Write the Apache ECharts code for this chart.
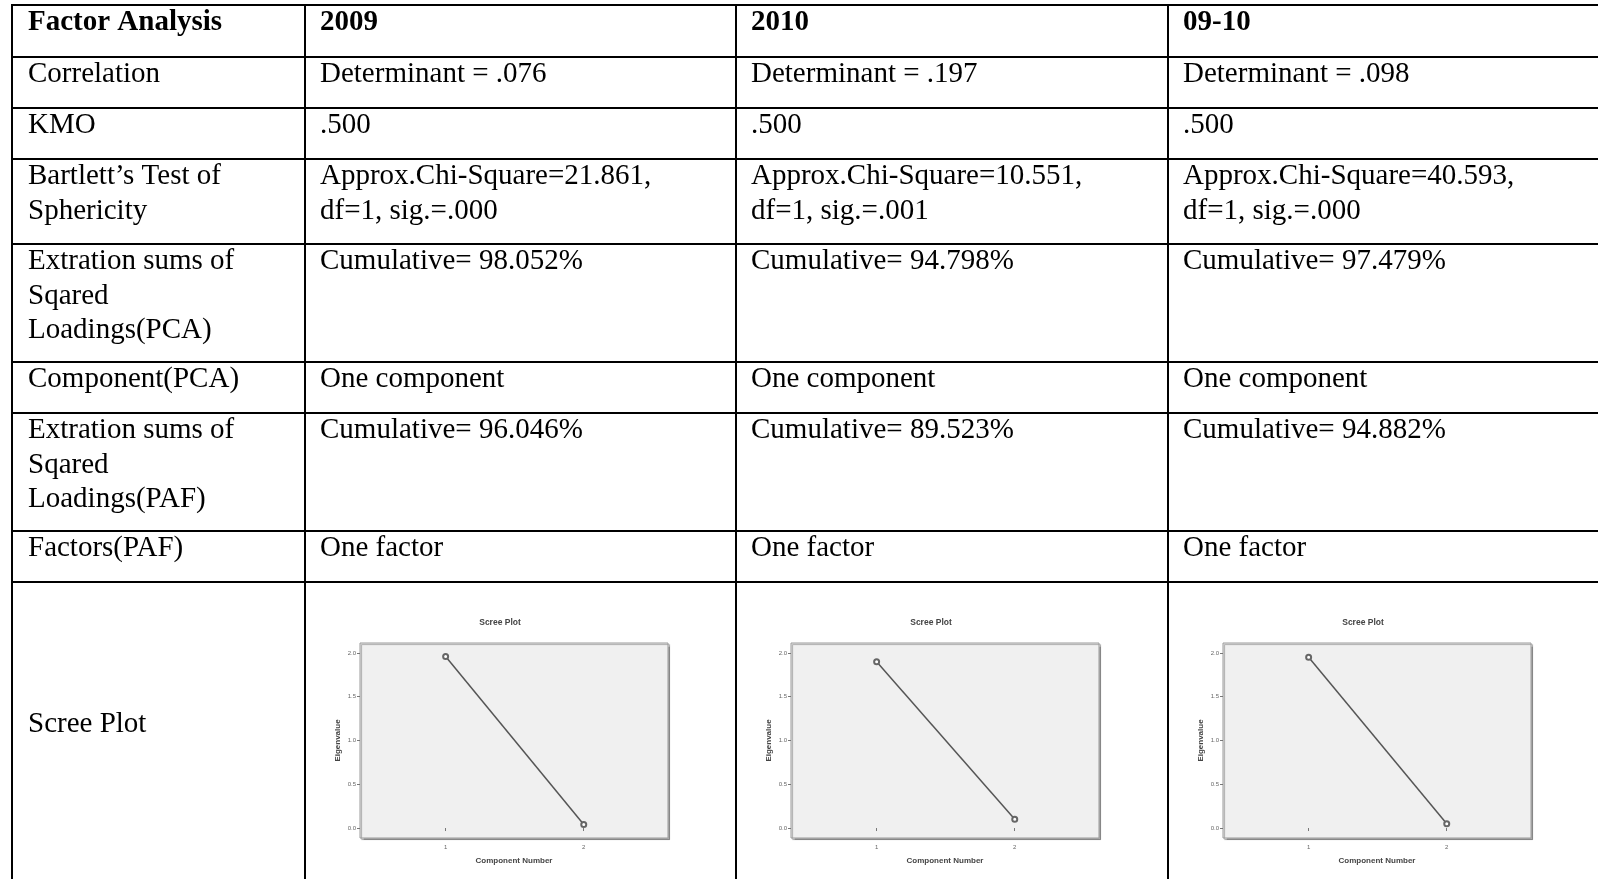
<!DOCTYPE html>
<html lang="en">
<head>
  <meta charset="UTF-8">
  <title>Factor Analysis table with scree plots</title>
  <script src="https://cdn.jsdelivr.net/npm/echarts@6/dist/echarts.min.js"></script>
  <style>
    html, body { margin: 0; padding: 0; background: #fff; }
    #chart { width: 1598px; height: 879px; }
  </style>
</head>
<body>
  <div id="chart"></div>
  <script>
    // table content
    const columns = ['Factor Analysis', '2009', '2010', '09-10'];
    const rowLabels = [
      'Correlation',
      'KMO',
      'Bartlett\u2019s Test of\nSphericity',
      'Extration sums of\nSqared\nLoadings(PCA)',
      'Component(PCA)',
      'Extration sums of\nSqared\nLoadings(PAF)',
      'Factors(PAF)',
      'Scree Plot'
    ];
    const determinants = ['.076', '.197', '.098'];
    const kmo = ['.500', '.500', '.500'];
    const chiSquare = ['21.861', '10.551', '40.593'];
    const sig = ['.000', '.001', '.000'];
    const cumulativePCA = ['98.052%', '94.798%', '97.479%'];
    const cumulativePAF = ['96.046%', '89.523%', '94.882%'];

    // scree plot values
    const components = [1, 2];
    const eigen2009 = [1.96, 0.04];
    const eigen2010 = [1.90, 0.10];
    const eigen0910 = [1.95, 0.05];
    const eigenTicks = [0, 0.5, 1, 1.5, 2];

    // layout
    const colX = [12, 305, 736, 1168];
    const rowY = [5, 57, 108, 159, 244, 362, 413, 531, 582];
    const LINE_H = 34.5;
    const FONT = 'Liberation Serif';

    const chart = echarts.init(document.getElementById('chart'));
    const graphics = [];

    // grid lines of the table (no right / bottom border)
    rowY.forEach(y => graphics.push({
      type: 'line', silent: true,
      shape: { x1: 11, y1: y, x2: 1598, y2: y },
      style: { stroke: '#000', lineWidth: 2 }
    }));
    colX.forEach(x => graphics.push({
      type: 'line', silent: true,
      shape: { x1: x, y1: 4, x2: x, y2: 879 },
      style: { stroke: '#000', lineWidth: 2 }
    }));

    function cell(col, row, text, bold, yOverride) {
      graphics.push({
        type: 'text', silent: true,
        x: col === 0 ? 28 : colX[col] + 15,
        y: yOverride !== undefined ? yOverride : rowY[row] + 0.5,
        style: {
          text: text,
          fontFamily: FONT,
          fontSize: 29,
          fontWeight: bold ? 'bold' : 'normal',
          fill: '#000',
          verticalAlign: 'top',
          lineHeight: LINE_H
        }
      });
    }

    columns.forEach((c, i) => cell(i, 0, c, true));
    rowLabels.forEach((r, i) => {
      if (i === rowLabels.length - 1) cell(0, i + 1, r, false, 724 - LINE_H / 2);
      else cell(0, i + 1, r, false);
    });
    for (let k = 0; k < 3; k++) {
      const c = k + 1;
      cell(c, 1, 'Determinant = ' + determinants[k]);
      cell(c, 2, kmo[k]);
      cell(c, 3, 'Approx.Chi-Square=' + chiSquare[k] + ',\ndf=1, sig.=' + sig[k]);
      cell(c, 4, 'Cumulative= ' + cumulativePCA[k]);
      cell(c, 5, 'One component');
      cell(c, 6, 'Cumulative= ' + cumulativePAF[k]);
      cell(c, 7, 'One factor');
    }

    // scree plots
    const screeSets = [eigen2009, eigen2010, eigen0910];
    const BOX_W = 308, BOX_H = 195, BOX_TOP = 643;
    const grids = [], xAxes = [], yAxes = [], series = [];
    const tickColor = '#777';
    const smallText = { fontFamily: 'Liberation Sans', fontSize: 6, color: '#666' };
    const nameText = { fontFamily: 'Liberation Sans', fontSize: 8, fontWeight: 'bold', color: '#444' };

    screeSets.forEach((vals, i) => {
      const left = colX[i + 1] + 55;
      grids.push({
        left: left, top: BOX_TOP, width: BOX_W, height: BOX_H,
        containLabel: false,
        show: true,
        backgroundColor: '#f0f0f0',
        borderColor: '#9a9a9a',
        borderWidth: 1,
        shadowColor: 'rgba(0,0,0,0.3)',
        shadowOffsetX: 1.5,
        shadowOffsetY: 1.5,
        shadowBlur: 1
      });
      graphics.push({
        type: 'text', silent: true,
        x: left + BOX_W / 2 - 14, y: 623,
        style: {
          text: 'Scree Plot', fontFamily: 'Liberation Sans', fontSize: 8.5,
          fontWeight: 'bold', fill: '#444', align: 'center', verticalAlign: 'middle'
        }
      });
      xAxes.push({
        type: 'value', gridIndex: i,
        min: 0.38, max: 2.61,
        name: 'Component Number', nameLocation: 'middle', nameGap: 19,
        nameTextStyle: nameText,
        axisLine: { show: false },
        axisTick: { show: true, length: 3, customValues: components, lineStyle: { color: tickColor } },
        axisLabel: { show: true, customValues: components, margin: 6, ...smallText },
        splitLine: { show: false }
      });
      yAxes.push({
        type: 'value', gridIndex: i,
        min: -0.114, max: 2.114,
        name: 'Eigenvalue', nameLocation: 'middle', nameGap: 18, nameRotate: 90,
        nameTextStyle: nameText,
        axisLine: { show: false },
        axisTick: { show: true, length: 3, customValues: eigenTicks, lineStyle: { color: tickColor } },
        axisLabel: {
          show: true, customValues: eigenTicks, margin: 4, ...smallText,
          formatter: v => v.toFixed(1)
        },
        splitLine: { show: false }
      });
      series.push({
        type: 'line', xAxisIndex: i, yAxisIndex: i,
        data: components.map((c, j) => [c, vals[j]]),
        symbol: 'emptyCircle', symbolSize: 5,
        lineStyle: { color: '#555', width: 1.5 },
        itemStyle: { color: '#666', borderWidth: 1 },
        silent: true
      });
    });

    chart.setOption({
      animation: false,
      backgroundColor: '#fff',
      grid: grids,
      xAxis: xAxes,
      yAxis: yAxes,
      series: series,
      graphic: graphics
    });
  </script>
</body>
</html>
